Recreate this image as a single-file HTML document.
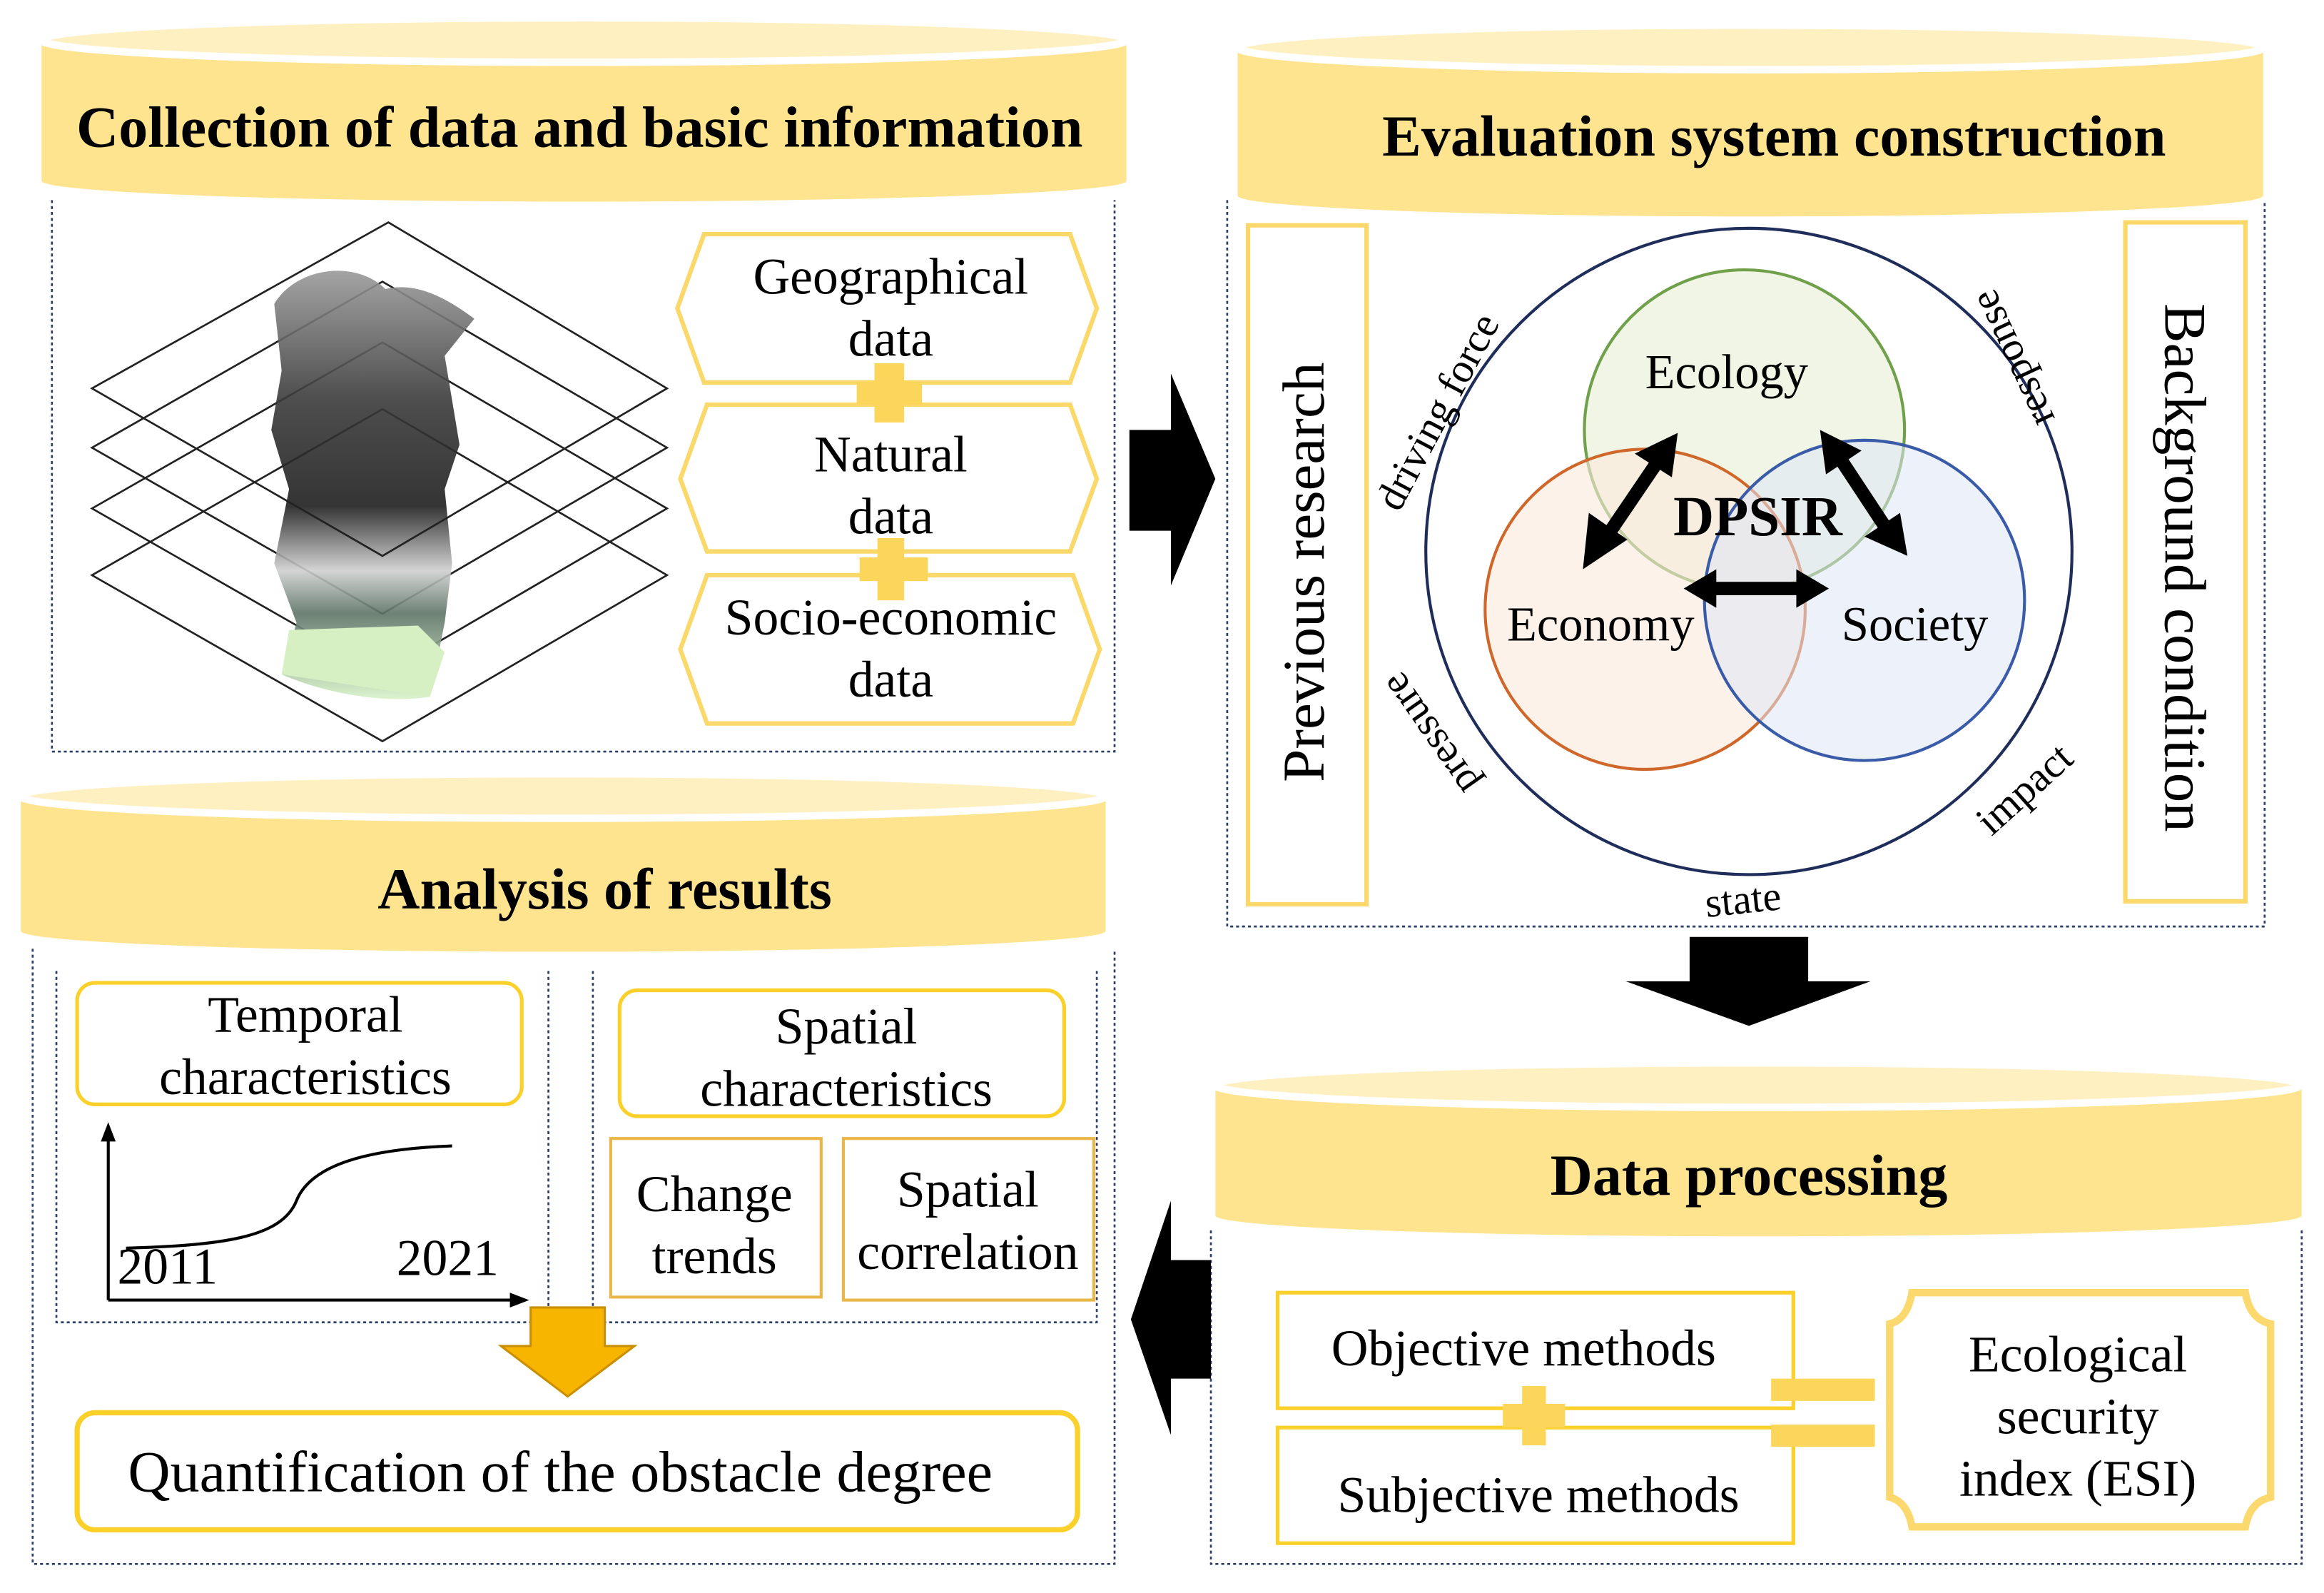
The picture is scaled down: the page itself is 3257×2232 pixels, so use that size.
<!DOCTYPE html>
<html><head><meta charset="utf-8"><style>html,body{margin:0;padding:0;background:#fff}svg{display:block}</style></head><body>
<svg width="3257" height="2232" viewBox="0 0 1568 1074.6" xmlns="http://www.w3.org/2000/svg" font-family="Liberation Serif, serif">
<defs>
<linearGradient id="mapg" x1="0" y1="0" x2="0" y2="1">
<stop offset="0" stop-color="#9a9a9a"/><stop offset="0.3" stop-color="#3a3a3a"/><stop offset="0.55" stop-color="#1e1e1e"/><stop offset="0.7" stop-color="#cfcfcf"/><stop offset="0.8" stop-color="#5d7466"/><stop offset="1" stop-color="#d8f2c8"/>
</linearGradient>
</defs>
<rect width="1568" height="1074.6" fill="#fff"/>

<g>
<path d="M28,27 L28,122 A366,14 0 0 0 760,122 L760,27 Z" fill="#fee48f"/>
<ellipse cx="394" cy="27" rx="366" ry="15" fill="#fff0c2" stroke="#fff" stroke-width="5"/>
<path d="M835,32 L835,132 A346,14 0 0 0 1527,132 L1527,32 Z" fill="#fee48f"/>
<ellipse cx="1181" cy="32" rx="346" ry="15" fill="#fff0c2" stroke="#fff" stroke-width="5"/>
<path d="M14,537 L14,628 A366,14 0 0 0 746,628 L746,537 Z" fill="#fee48f"/>
<ellipse cx="380" cy="537" rx="366" ry="15" fill="#fff0c2" stroke="#fff" stroke-width="5"/>
<path d="M820,732 L820,820 A366,14 0 0 0 1553,820 L1553,732 Z" fill="#fee48f"/>
<ellipse cx="1186" cy="732" rx="366" ry="15" fill="#fff0c2" stroke="#fff" stroke-width="5"/>
</g>
<g font-weight="bold" font-size="39.5" text-anchor="middle" fill="#000">
<text x="391" y="99">Collection of data and basic information</text>
<text x="1197" y="105">Evaluation system construction</text>
<text x="408" y="613">Analysis of results</text>
<text x="1180" y="806">Data processing</text>
</g>

<g fill="none" stroke="#2e3f66" stroke-width="1.3" stroke-dasharray="2,2">
<path d="M35,135 L35,507 L752,507 L752,135"/>
<path d="M828,135 L828,625 L1528,625 L1528,135"/>
<path d="M22,640 L22,1055 L752,1055 L752,640"/>
<path d="M38,655 L38,892 L370,892 L370,655"/>
<path d="M400,655 L400,892 L740,892 L740,655"/>
<path d="M817,830 L817,1055 L1553,1055 L1553,830"/>
</g>

<g fill="none" stroke="#222" stroke-width="1.3">
<path d="M258,276 L450,388 L258,500 L62,388 Z"/>
<path d="M258,231 L450,343 L258,455 L62,343 Z"/>
<path d="M258,190 L450,302 L258,414 L62,302 Z"/>
</g>
<path d="M185,205 C200,180 240,175 260,195 C280,190 300,200 320,215 L300,240 L310,300 L300,330 L305,380 L300,420 L290,470 C260,475 220,468 190,455 L200,420 L185,380 L195,330 L183,290 L190,250 Z" fill="url(#mapg)" opacity="0.9"/>
<path d="M190,455 L290,470 L300,440 L282,422 L195,425 Z" fill="#d6f0c4"/>
<path d="M262,150 L450,262 L258,375 L62,262 Z" fill="none" stroke="#222" stroke-width="1.3"/>

<g fill="#fff" stroke="#fbd86a" stroke-width="3">
<path d="M457,208 L475,158 L722,158 L740,208 L722,258 L475,258 Z"/>
<path d="M459,323 L477,273 L722,273 L740,323 L722,372 L477,372 Z"/>
<path d="M459,438 L477,388 L724,388 L742,438 L724,488 L477,488 Z"/>
</g>
<g fill="#fcd65a">
<rect x="590" y="245" width="20" height="40"/><rect x="578" y="257" width="44" height="16"/>
<rect x="592" y="363" width="18" height="42"/><rect x="580" y="376" width="46" height="16"/>
</g>
<g font-size="34.5" text-anchor="middle" fill="#000">
<text x="601" y="198">Geographical</text><text x="601" y="240">data</text>
<text x="601" y="318">Natural</text><text x="601" y="360">data</text>
<text x="601" y="428">Socio-economic</text><text x="601" y="470">data</text>
</g>

<path d="M762,290 L790,290 L790,252 L820,323 L790,395 L790,358 L762,358 Z" fill="#000"/>
<path d="M1140,632 L1220,632 L1220,662 L1262,662 L1180,692 L1097,662 L1140,662 Z" fill="#000"/>
<path d="M817,850 L790,850 L790,810 L763,890 L790,968 L790,930 L817,930 Z" fill="#000"/>

<g fill="#fff" stroke="#fbd86a" stroke-width="3">
<rect x="842" y="152" width="80" height="458"/>
<rect x="1434" y="150" width="81" height="458"/>
</g>
<text transform="translate(893,386) rotate(-90)" font-size="40" text-anchor="middle">Previous research</text>
<text transform="translate(1461,383) rotate(90)" font-size="40" text-anchor="middle">Background condition</text>
<circle cx="1180" cy="372" r="218" fill="none" stroke="#1f2d5a" stroke-width="2"/>
<circle cx="1177" cy="290" r="108" fill="#e9f1dc" fill-opacity="0.7" stroke="#70a04a" stroke-width="2"/>
<circle cx="1110" cy="411" r="108" fill="#fbeadc" fill-opacity="0.6" stroke="#d0672a" stroke-width="2"/>
<circle cx="1258" cy="405" r="108" fill="#dfe6f4" fill-opacity="0.55" stroke="#3a5ca8" stroke-width="2"/>
<g font-size="33" text-anchor="middle">
<text x="1165" y="262">Ecology</text>
<text x="1080" y="432">Economy</text>
<text x="1292" y="432">Society</text>
</g>
<text x="1186" y="361" font-size="38" font-weight="bold" text-anchor="middle">DPSIR</text>
<g stroke="#000" stroke-width="9" fill="#000">
<line x1="1082" y1="365" x2="1118" y2="312"/>
<line x1="1240" y1="307" x2="1273" y2="357"/>
<line x1="1152" y1="397" x2="1218" y2="397"/>
</g>
<g fill="#000">
<path d="M1068,384 L1072,346 L1098,364 Z"/>
<path d="M1132,292 L1103,306 L1128,322 Z"/>
<path d="M1228,290 L1232,320 L1256,304 Z"/>
<path d="M1287,375 L1258,362 L1282,346 Z"/>
<path d="M1136,397 L1158,384 L1158,410 Z"/>
<path d="M1234,397 L1212,384 L1212,410 Z"/>
</g>
<g font-size="28" text-anchor="middle">
<text transform="translate(978,282) rotate(-62)">driving force</text>
<text transform="translate(1366,238) rotate(-115)">response</text>
<text transform="translate(972,490) rotate(-125)">pressure</text>
<text transform="translate(1372,539) rotate(-42)">impact</text>
<text transform="translate(1177,616) rotate(-6)">state</text>
</g>

<g fill="#fff" stroke="#fcd02a" stroke-width="2.5">
<rect x="862" y="872" width="348" height="78"/>
<rect x="862" y="963" width="348" height="78"/>
</g>
<g fill="#fcd65a">
<rect x="1195" y="930" width="70" height="15"/><rect x="1195" y="961" width="70" height="15"/>
<rect x="1027" y="935" width="16" height="40"/><rect x="1014" y="947" width="42" height="16"/>
</g>
<path d="M1290,872 L1515,872 Q1518,890 1532,893 L1532,1010 Q1518,1013 1515,1030 L1290,1030 Q1287,1013 1275,1010 L1275,893 Q1287,890 1290,872 Z" fill="#fff" stroke="#fcd96e" stroke-width="5"/>
<g font-size="34.5" text-anchor="middle">
<text x="1028" y="921">Objective  methods</text>
<text x="1038" y="1020">Subjective  methods</text>
<text x="1402" y="925">Ecological</text>
<text x="1402" y="967">security</text>
<text x="1402" y="1009">index (ESI)</text>
</g>

<g fill="#fff" stroke="#fcd02a" stroke-width="2.5">
<rect x="52" y="663" width="300" height="82" rx="12"/>
<rect x="418" y="668" width="300" height="85" rx="12"/>
<rect x="52" y="953" width="675" height="79" rx="12" stroke-width="3.5"/>
</g>
<g fill="#fff" stroke="#e9b64a" stroke-width="2">
<rect x="412" y="768" width="142" height="107"/>
<rect x="569" y="768" width="169" height="109"/>
</g>
<g font-size="34.5" text-anchor="middle">
<text x="206" y="696">Temporal</text><text x="206" y="738">characteristics</text>
<text x="571" y="704">Spatial</text><text x="571" y="746">characteristics</text>
<text x="482" y="817">Change</text><text x="482" y="859">trends</text>
<text x="653" y="814">Spatial</text><text x="653" y="856">correlation</text>
<text x="113" y="866">2011</text><text x="302" y="860">2021</text>
</g>
<text x="378" y="1006" font-size="39.5" text-anchor="middle">Quantification of the obstacle degree</text>
<g stroke="#000" stroke-width="2" fill="none">
<line x1="73" y1="765" x2="73" y2="877"/>
<line x1="73" y1="877" x2="350" y2="877"/>
<path d="M85,842 C150,840 190,835 200,810 C210,785 250,775 305,773"/>
</g>
<path d="M73,757 L68,770 L78,770 Z M357,877 L344,872 L344,882 Z" fill="#000"/>
<path d="M358,882 L408,882 L408,908 L428,908 L383,942 L338,908 L358,908 Z" fill="#f7b500" stroke="#c98f00" stroke-width="1.5"/>
</svg>
</body></html>
